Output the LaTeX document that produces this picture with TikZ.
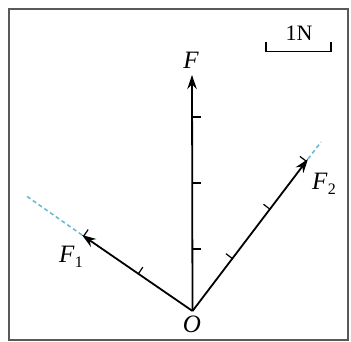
\documentclass[tikz,border=0pt]{standalone}
\usepackage{fontspec}
\setmainfont{Liberation Serif}
\usetikzlibrary{calc,arrows.meta}
\newcommand{\vsub}[2]{\textit{#1}\kern0.5pt\raisebox{-4.5pt}{\fontsize{16}{16}\selectfont #2}}
\begin{document}
\begin{tikzpicture}[x=1pt,y=-1pt,
  vec/.style={line width=1.8pt,-{Stealth[length=14pt,width=9.5pt]}},
  tickmark/.style={line width=1.2pt},
  ext/.style={dash pattern=on 4pt off 3pt,line width=1.6pt,color=extblue},
  lbl/.style={font=\fontsize{25}{30}\selectfont,inner sep=0pt}]
\definecolor{extblue}{RGB}{110,185,210}
\useasboundingbox (0,0) rectangle (351,342);
\draw[line width=2.8pt,color=black!65] (9,9) rectangle (348,340);
% points
\coordinate (O) at (192.5,311);
\coordinate (Ft) at (192,75);
\coordinate (F2t) at (308,159);
\coordinate (F1t) at (82,235);
\coordinate (F2e) at (321,142);
\coordinate (F1e) at (25,195);
% dashed extensions
\draw[ext] (F2t) -- (F2e);
\draw[ext] (F1t) -- (F1e);
% vectors
\draw[vec] (O) -- (Ft);
\draw[vec] (O) -- (F2t);
\draw[vec] (O) -- (F1t);
% ticks on F
\foreach \y in {117,183,249} \draw[tickmark] (192.5,\y) -- ++(8,0);
% ticks on F2
\foreach \f in {0.345,0.67,0.985} \draw[tickmark] ($(O)!\f!(F2t)$) -- ++(-6.4,-4.9);
% ticks on F1
\foreach \f in {0.49,0.985} \draw[tickmark] ($(O)!\f!(F1t)$) -- ++(4.5,-6.6);
% labels
\node[lbl] (lF) at (191,60) {\textit{F}};
\node[lbl] (lF2) at (324,184) {\vsub{F}{2}};
\node[lbl] (lF1) at (71,257) {\vsub{F}{1}};
\node[lbl] (lO) at (192,324) {\textit{O}};
% scale bar
\node[lbl,font=\fontsize{22}{26}\selectfont] (unit) at (299,33) {1N};
\draw[line width=1.5pt] (266,42) -- (266,51.5) -- (331,51.5) -- (331,42);
\end{tikzpicture}
\end{document}
